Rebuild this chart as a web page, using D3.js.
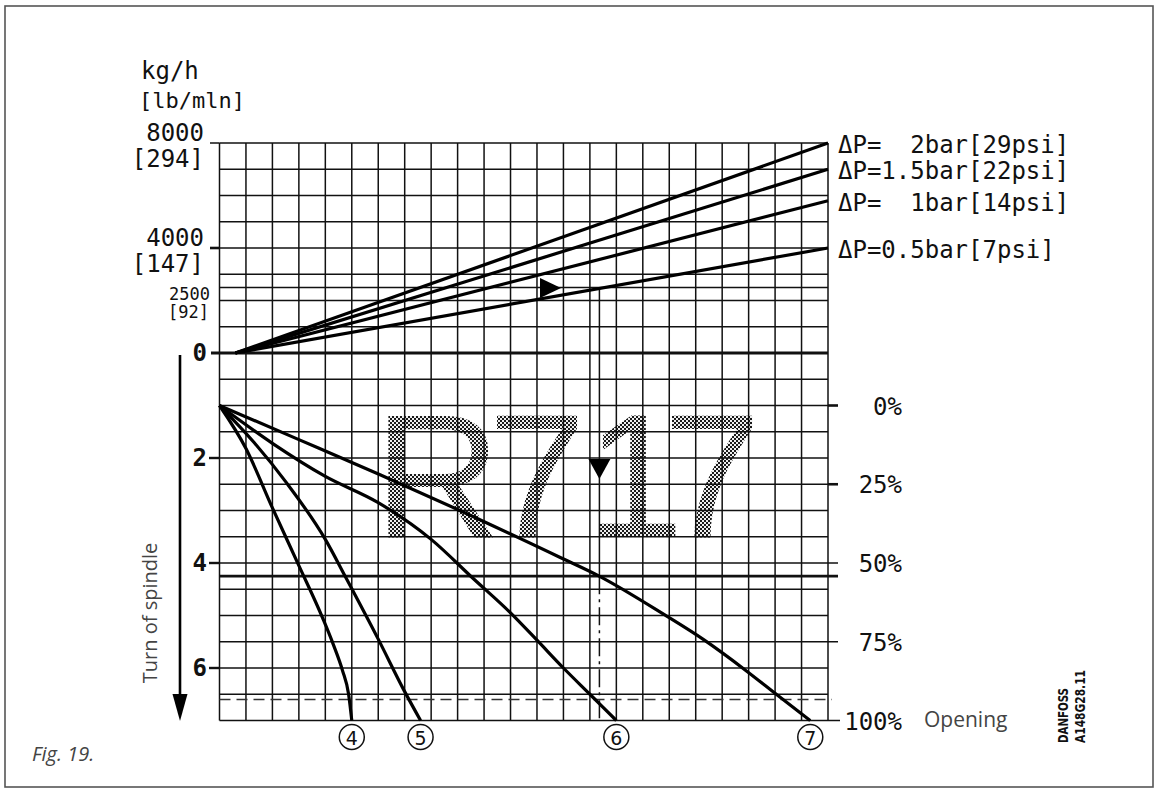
<!DOCTYPE html>
<html lang="en">
<head>
<meta charset="utf-8" />
<title>R717 capacity diagram</title>
<script src="https://cdn.jsdelivr.net/npm/d3@7"></script>
<style>
body { margin: 0; background: #fff; }
svg { display: block; }
.mono { font-family: 'DejaVu Sans Mono', monospace; fill: #111; }
.sans { font-family: 'Open Sans', sans-serif; fill: #444; }
</style>
</head>
<body>
<svg id="chart" width="1159" height="791"></svg>
<script>
// common x axis, counted in grid columns
var nCols = 23;

// upper part: capacity lines for each pressure drop
var dpNames = ['ΔP=  2bar[29psi]', 'ΔP=1.5bar[22psi]', 'ΔP=  1bar[14psi]', 'ΔP=0.5bar[7psi]'];
var dpStartCol = [0.6, 0.6, 0.6, 0.6];
var dpEndCap = [8000, 7000, 5800, 4000];
var capLabels = [8000, 4000, 2500];
var lbLabels = [294, 147, 92];

// lower part: turn of spindle per orifice size
var orificeNames = ['4', '5', '6', '7'];
var curve4 = [[0, 1], [1, 1.82], [2, 2.95], [3, 4.05], [3.9, 5.05], [4.3, 5.55], [4.65, 6.05], [4.88, 6.5], [5.0, 7.0]];
var curve5 = [[0, 1], [1.3, 1.7], [2.5, 2.45], [4, 3.55], [4.8, 4.3], [6.0, 5.45], [7.0, 6.45], [7.6, 7.0]];
var curve6 = [[0, 1], [2, 1.72], [4, 2.35], [6, 2.85], [8, 3.55], [9.6, 4.3], [11, 4.95], [12, 5.47], [13, 6.0], [14, 6.5], [15, 7.0]];
var curve7 = [[0, 1], [3, 1.65], [6.07, 2.32], [9, 2.98], [12.9, 3.9], [14.35, 4.25], [16.8, 4.98], [18.3, 5.46], [19.93, 6.06], [21.07, 6.51], [22.33, 7.0]];
var orificeCurves = [curve4, curve5, curve6, curve7];
var turnTicks = [2, 4, 6];
var pctTicks = [0, 25, 50, 75, 100];

// worked example
var readTurn = 4.25;
var readCol = 14.36;
var readCap = 2500;
var dashTurn = 6.6;

var svg = d3.select('#chart');
var x = d3.scaleLinear().domain([0, nCols]).range([219.5, 828]);
var yCap = d3.scaleLinear().domain([0, 8000]).range([353, 143]);
var yTurn = d3.scaleLinear().domain([0, 7]).range([353, 720.5]);
var yPct = d3.scaleLinear().domain([0, 100]).range([yTurn(1), yTurn(7)]);

// frame
svg.append('rect')
  .attr('x', 5).attr('y', 6).attr('width', 1148).attr('height', 781)
  .attr('fill', 'none').attr('stroke', '#555').attr('stroke-width', 1.6);

// stippled R717 behind the grid
var defs = svg.append('defs');
var pat = defs.append('pattern')
  .attr('id', 'stip').attr('width', 4).attr('height', 4)
  .attr('patternUnits', 'userSpaceOnUse');
pat.append('rect').attr('width', 4).attr('height', 4).attr('fill', '#eee');
pat.append('rect').attr('width', 2).attr('height', 2).attr('fill', '#1a1a1a');
pat.append('rect').attr('x', 2).attr('y', 2).attr('width', 2).attr('height', 2).attr('fill', '#1a1a1a');

svg.append('text')
  .attr('x', '374 488 586 663')
  .attr('y', 537)
  .style('font-family', "'Liberation Sans', Arial, sans-serif")
  .style('font-size', '176px')
  .attr('fill', 'url(#stip)')
  .text('R717');

// grid
var grid = svg.append('g').attr('stroke', '#111').attr('stroke-width', 1.5);
grid.selectAll('.vline')
  .data(d3.range(0, nCols + 1))
  .enter().append('line')
  .attr('x1', d => x(d)).attr('x2', d => x(d))
  .attr('y1', yCap(8000)).attr('y2', yTurn(7));
grid.selectAll('.hcap')
  .data(d3.range(1000, 8001, 1000).concat([readCap]))
  .enter().append('line')
  .attr('x1', x(0)).attr('x2', x(nCols))
  .attr('y1', d => yCap(d)).attr('y2', d => yCap(d));
grid.selectAll('.hturn')
  .data(d3.range(0.5, 7.01, 0.5))
  .enter().append('line')
  .attr('x1', x(0)).attr('x2', x(nCols))
  .attr('y1', d => yTurn(d)).attr('y2', d => yTurn(d));

// left ticks
var ticks = svg.append('g').attr('stroke', '#111');
ticks.selectAll('.tc')
  .data(capLabels.slice(0, 2))
  .enter().append('line')
  .attr('x1', 210).attr('x2', x(0))
  .attr('y1', d => yCap(d)).attr('y2', d => yCap(d))
  .attr('stroke-width', (d, i) => i == 1 ? 2.6 : 1.5);
ticks.selectAll('.tt')
  .data(turnTicks)
  .enter().append('line')
  .attr('x1', 209).attr('x2', x(0))
  .attr('y1', d => yTurn(d)).attr('y2', d => yTurn(d))
  .attr('stroke-width', 2.4);
ticks.selectAll('.tp')
  .data(pctTicks)
  .enter().append('line')
  .attr('x1', x(nCols)).attr('x2', d => d == 100 ? 840 : 838)
  .attr('y1', d => yPct(d)).attr('y2', d => yPct(d))
  .attr('stroke-width', d => d < 50 ? 2.6 : 1.5);

// zero line, 4.25 turns line, dashed line
svg.append('line')
  .attr('x1', 211).attr('x2', x(nCols))
  .attr('y1', yCap(0)).attr('y2', yCap(0))
  .attr('stroke', '#111').attr('stroke-width', 3);
svg.append('line')
  .attr('x1', x(0)).attr('x2', 838)
  .attr('y1', yTurn(readTurn)).attr('y2', yTurn(readTurn))
  .attr('stroke', '#111').attr('stroke-width', 2.6);
svg.append('line')
  .attr('x1', x(0)).attr('x2', 832)
  .attr('y1', yTurn(dashTurn)).attr('y2', yTurn(dashTurn))
  .attr('stroke', '#333').attr('stroke-width', 1.5)
  .attr('stroke-dasharray', '11,6');

// reading line from curve 7 up to the 0.5 bar line
svg.append('line')
  .attr('x1', x(readCol)).attr('x2', x(readCol))
  .attr('y1', yCap(readCap) + 1).attr('y2', yTurn(readTurn))
  .attr('stroke', '#111').attr('stroke-width', 1.5);
svg.append('line')
  .attr('x1', x(readCol)).attr('x2', x(readCol))
  .attr('y1', yTurn(readTurn)).attr('y2', yTurn(7))
  .attr('stroke', '#111').attr('stroke-width', 1.5)
  .attr('stroke-dasharray', '18,5,3,5');

// capacity lines
var capLine = d3.line().x(d => x(d[0])).y(d => yCap(d[1]));
svg.append('g').selectAll('path')
  .data(dpNames.map((n, i) => [[dpStartCol[i], 0], [nCols, dpEndCap[i]]]))
  .enter().append('path')
  .attr('d', capLine)
  .attr('fill', 'none').attr('stroke', '#000').attr('stroke-width', 3.2);

svg.append('g').selectAll('text')
  .data(dpNames)
  .enter().append('text')
  .attr('class', 'mono')
  .attr('x', 838)
  .attr('y', (d, i) => yCap(dpEndCap[i]) + 2)
  .attr('dominant-baseline', 'central')
  .style('font-size', '24px')
  .style('white-space', 'pre')
  .text(d => d);

// orifice curves
var turnLine = d3.line().x(d => x(d[0])).y(d => yTurn(d[1])).curve(d3.curveMonotoneX);
svg.append('g').selectAll('path')
  .data(orificeCurves)
  .enter().append('path')
  .attr('d', turnLine)
  .attr('fill', 'none').attr('stroke', '#000').attr('stroke-width', 3.2)
  .attr('stroke-linejoin', 'round');

var circ = svg.append('g').selectAll('g')
  .data(orificeNames)
  .enter().append('g')
  .attr('transform', (d, i) => {
    var c = orificeCurves[i];
    return 'translate(' + x(c[c.length - 1][0]) + ',737)';
  });
circ.append('circle').attr('r', 12.5)
  .attr('fill', '#fff').attr('stroke', '#111').attr('stroke-width', 1.5);
circ.append('text')
  .attr('text-anchor', 'middle').attr('dominant-baseline', 'central')
  .attr('y', 1)
  .style('font-family', "'DejaVu Sans', sans-serif")
  .style('font-size', '19px')
  .attr('fill', '#111')
  .text(d => d);

// markers of the worked example
svg.append('path')
  .attr('d', 'M540,278 L540,298 L561,288 Z')
  .attr('fill', '#000');
var tx = x(readCol);
svg.append('path')
  .attr('d', 'M' + (tx - 11) + ',459 L' + (tx + 11) + ',459 L' + tx + ',479 Z')
  .attr('fill', '#000');

// left labels
svg.append('text').attr('class', 'mono').attr('x', 141).attr('y', 79)
  .style('font-size', '24px').text('kg/h');
svg.append('text').attr('class', 'mono').attr('x', 139).attr('y', 108)
  .style('font-size', '22px').text('[lb/mln]');

svg.append('g').selectAll('text')
  .data(capLabels)
  .enter().append('text')
  .attr('class', 'mono')
  .attr('text-anchor', 'end')
  .attr('x', (d, i) => i == 2 ? 210 : 204)
  .attr('y', (d, i) => i == 2 ? yCap(d) + 13 : yCap(d) - 2)
  .style('font-size', (d, i) => i == 2 ? '17px' : '24px')
  .text(d => d);
svg.append('g').selectAll('text')
  .data(lbLabels)
  .enter().append('text')
  .attr('class', 'mono')
  .attr('text-anchor', 'end')
  .attr('x', (d, i) => i == 2 ? 209 : 204)
  .attr('y', (d, i) => i == 2 ? yCap(capLabels[i]) + 31 : yCap(capLabels[i]) + 24)
  .style('font-size', (d, i) => i == 2 ? '17px' : '24px')
  .text(d => '[' + d + ']');

svg.append('g').selectAll('text')
  .data([0].concat(turnTicks))
  .enter().append('text')
  .attr('class', 'mono')
  .attr('text-anchor', 'end')
  .attr('x', 207)
  .attr('y', d => yTurn(d))
  .attr('dominant-baseline', 'central')
  .style('font-size', '24px')
  .style('font-weight', 'bold')
  .text(d => d);

// right labels
svg.append('g').selectAll('text')
  .data(pctTicks)
  .enter().append('text')
  .attr('class', 'mono')
  .attr('text-anchor', 'end')
  .attr('x', 902)
  .attr('y', d => yPct(d) + 1)
  .attr('dominant-baseline', 'central')
  .style('font-size', '24px')
  .text(d => d + '%');
svg.append('text').attr('class', 'sans')
  .attr('x', 924).attr('y', 727)
  .style('font-size', '21px').text('Opening');

// spindle arrow
svg.append('line')
  .attr('x1', 180).attr('x2', 180).attr('y1', 355).attr('y2', 700)
  .attr('stroke', '#000').attr('stroke-width', 2.6);
svg.append('path').attr('d', 'M172.5,694 L187.5,694 L180,721 Z').attr('fill', '#000');
svg.append('text').attr('class', 'sans')
  .attr('transform', 'translate(157,613) rotate(-90)')
  .attr('text-anchor', 'middle')
  .style('font-size', '20px').text('Turn of spindle');

// drawing code and figure caption
svg.append('text')
  .attr('transform', 'translate(1068,743) rotate(-90)')
  .style('font-family', "'DejaVu Sans Condensed', 'DejaVu Sans', sans-serif")
  .style('font-size', '14px').style('font-weight', 'bold')
  .attr('textLength', 55).attr('lengthAdjust', 'spacingAndGlyphs')
  .attr('fill', '#111').text('DANFOSS');
svg.append('text')
  .attr('transform', 'translate(1085,743) rotate(-90)')
  .style('font-family', "'DejaVu Sans Condensed', 'DejaVu Sans', sans-serif")
  .style('font-size', '14px').style('font-weight', 'bold')
  .attr('textLength', 73).attr('lengthAdjust', 'spacingAndGlyphs')
  .attr('fill', '#111').text('A148G28.11');

svg.append('text').attr('class', 'sans')
  .attr('x', 32).attr('y', 761)
  .style('font-size', '20px').style('font-style', 'italic')
  .attr('fill', '#333')
  .text('Fig. 19.');
</script>
</body>
</html>
